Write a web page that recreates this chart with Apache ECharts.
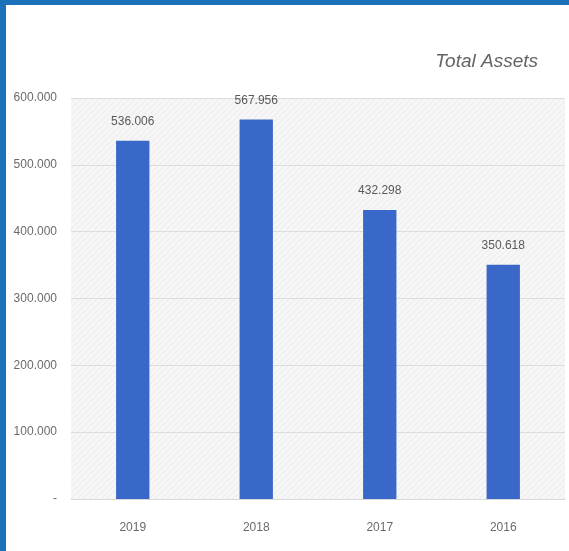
<!DOCTYPE html>
<html>
<head>
<meta charset="utf-8">
<script src="https://cdn.jsdelivr.net/npm/echarts@6/dist/echarts.min.js"></script>
<style>
  html, body { margin: 0; padding: 0; background: #ffffff; }
  #chart { width: 569px; height: 551px; }
</style>
</head>
<body>
<div id="chart"></div>
<script>
// Total assets by year (in thousands, shown with a dot as thousands separator)
const years = ['2019', '2018', '2017', '2016'];
const totalAssets = [536006, 567956, 432298, 350618];
const yTicks = [0, 100000, 200000, 300000, 400000, 500000, 600000];

const FONT = '"Liberation Sans", "Noto Sans", sans-serif';

function fmtDots(v) {
  if (v === 0) return '-';
  return String(Math.round(v)).replace(/\B(?=(\d{3})+(?!\d))/g, '.');
}

// Faint diagonal hatch used as the plot background
function hatchPattern() {
  const c = document.createElement('canvas');
  c.width = 6; c.height = 6;
  const g = c.getContext('2d');
  g.fillStyle = '#f6f6f6';
  g.fillRect(0, 0, 6, 6);
  g.strokeStyle = '#ebebeb';
  g.lineWidth = 1;
  g.beginPath();
  g.moveTo(0, 6); g.lineTo(6, 0);
  g.stroke();
  return c;
}

const chart = echarts.init(document.getElementById('chart'), null, { renderer: 'canvas' });
chart.setOption({
  animation: false,
  backgroundColor: '#ffffff',
  title: {
    text: 'Total Assets',
    right: 26,
    top: 47,
    textStyle: {
      fontFamily: FONT,
      fontStyle: 'italic',
      fontWeight: 'normal',
      fontSize: 19,
      color: '#646464'
    }
  },
  graphic: [
    { type: 'rect', left: 0, top: 0, shape: { width: 6, height: 551 }, style: { fill: '#1b72bb' }, z: 100 },
    { type: 'rect', left: 0, top: 0, shape: { width: 569, height: 5 }, style: { fill: '#1b72bb' }, z: 100 }
  ],
  grid: {
    left: 71,
    right: 4,
    top: 98,
    bottom: 52,
    show: true,
    borderWidth: 0,
    backgroundColor: { image: hatchPattern(), repeat: 'repeat' }
  },
  xAxis: {
    type: 'category',
    data: years,
    axisLine: { show: true, lineStyle: { color: '#d9d9d9' } },
    axisTick: { show: false },
    axisLabel: {
      margin: 23,
      fontFamily: FONT,
      fontSize: 12,
      color: '#6a6a6a'
    }
  },
  yAxis: {
    type: 'value',
    min: yTicks[0],
    max: yTicks[yTicks.length - 1],
    interval: yTicks[1] - yTicks[0],
    axisLine: { show: false },
    axisTick: { show: false },
    splitLine: { lineStyle: { color: '#dcdcdc', width: 1 } },
    axisLabel: {
      margin: 14,
      fontFamily: FONT,
      fontSize: 12,
      color: '#6a6a6a',
      formatter: fmtDots
    }
  },
  series: [{
    type: 'bar',
    data: totalAssets,
    barWidth: '27%',
    itemStyle: { color: '#3a68c8' },
    label: {
      show: true,
      position: 'top',
      distance: 13,
      fontFamily: FONT,
      fontSize: 12,
      color: '#5a5a5a',
      formatter: p => fmtDots(p.value)
    }
  }]
});
</script>
</body>
</html>
